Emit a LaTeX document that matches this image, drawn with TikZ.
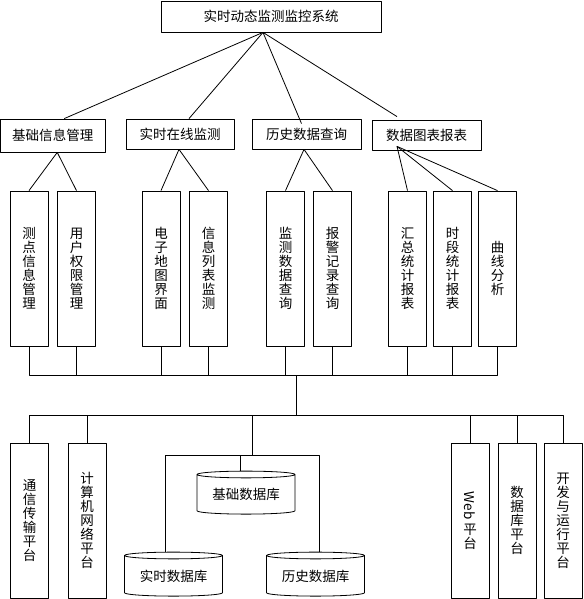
\documentclass[tikz,border=0pt]{standalone}
\usepackage{fontspec}
\setmainfont{Noto Sans CJK SC}
\usepackage{graphicx}
\usetikzlibrary{shapes.geometric}

\begin{document}
\begin{tikzpicture}[x=1pt,y=-1pt,line width=0.8pt,line join=round,
	box/.style={draw,inner sep=0pt,font=\fontsize{13.5}{14}\selectfont},
	vbox/.style={draw,inner sep=0pt,minimum width=38pt,minimum height=155pt,align=center,font=\fontsize{13.5}{14}\selectfont},
	db/.style={draw,cylinder,shape border rotate=90,aspect=0.1,minimum width=98pt,minimum height=44pt,inner sep=0pt,font=\fontsize{13.5}{14}\selectfont}]
	\useasboundingbox (0,0) rectangle (583,599);
	\def \ys{268.5} % tam hop doc tang tren
	\def \yp{520.5} % tam hop doc tang duoi
	% tang 1, tang 2
	\node[box,minimum width=220pt,minimum height=31pt] (sys) at (271,16.5) {实时动态监测监控系统};
	\node[box,minimum width=104.5pt,minimum height=33pt] (jc) at (52.75,135.5) {基础信息管理};
	\node[box,minimum width=108pt,minimum height=30pt] (ss) at (180,134) {实时在线监测};
	\node[box,minimum width=109pt,minimum height=30pt] (ls) at (306.5,134) {历史数据查询};
	\node[box,minimum width=109pt,minimum height=30pt] (tb) at (426.5,135) {数据图表报表};
	% tang 3
	\node[vbox] (cd) at (29,\ys) {测\\点\\信\\息\\管\\理};
	\node[vbox] (yh) at (76.5,\ys) {用\\户\\权\\限\\管\\理};
	\node[vbox] (dz) at (161,\ys) {电\\子\\地\\图\\界\\面};
	\node[vbox] (xx) at (208.5,\ys) {信\\息\\列\\表\\监\\测};
	\node[vbox] (jcs) at (285.5,\ys) {监\\测\\数\\据\\查\\询};
	\node[vbox] (bj) at (332.5,\ys) {报\\警\\记\\录\\查\\询};
	\node[vbox] (hz) at (407.5,\ys) {汇\\总\\统\\计\\报\\表};
	\node[vbox] (sd) at (452.5,\ys) {时\\段\\统\\计\\报\\表};
	\node[vbox] (qx) at (497.5,\ys) {曲\\线\\分\\析};
	% tang duoi
	\node[vbox] (tx) at (29.5,\yp) {通\\信\\传\\输\\平\\台};
	\node[vbox] (jsj) at (87,\yp) {计\\算\\机\\网\\络\\平\\台};
	\node[vbox] (web) at (470,\yp) {\rotatebox{-90}{Web}\\[3pt]平\\台};
	\node[vbox] (sjk) at (517,\yp) {数\\据\\库\\平\\台};
	\node[vbox] (kf) at (563,\yp) {开\\发\\与\\运\\行\\平\\台};
	\node[db,minimum height=43pt] (jcdb) at (246,494.5) {基础数据库};
	\node[db] (ssdb) at (173.5,576) {实时数据库};
	\node[db] (lsdb) at (315.5,576) {历史数据库};
	\coordinate (apex) at ([xshift=-8pt]sys.south);
	\coordinate (busA) at (296,375);
	\coordinate (busB) at (296,415);
	\coordinate (hub) at (252,455);
	% duong noi
	\draw (apex)--([xshift=11.5pt]jc.north);
	\draw (apex)--([xshift=9pt]ss.north);
	\draw (apex)--([xshift=-5pt,yshift=-5pt]ls.north);
	\draw (apex)--([xshift=-29.5pt,yshift=3pt]tb.north);
	\draw (cd.north)--([xshift=4.5pt]jc.south)--(yh.north);
	\draw (dz.north)--([xshift=-1pt]ss.south)--(xx.north);
	\draw (jcs.north)--([xshift=-2.5pt]ls.south)--(bj.north);
	\draw (hz.north)--([xshift=-29.5pt,yshift=4pt]tb.south)--(sd.north);
	\draw ([xshift=-29.5pt,yshift=4pt]tb.south)--(qx.north);
	\draw (cd.south)|-(busA) (yh.south)|-(busA) (dz.south)|-(busA) (xx.south)|-(busA)
		(jcs.south)|-(busA) (bj.south)|-(busA) (hz.south)|-(busA) (sd.south)|-(busA) (qx.south)|-(busA);
	\draw (busA)--(busB);
	\draw (busB)-|(tx.north) (busB)-|(jsj.north) (busB)-|(web.north) (busB)-|(sjk.north) (busB)-|(kf.north);
	\draw (busB)-|(hub);
	\draw (hub)-|([xshift=-6pt]jcdb.north) (hub)-|([xshift=-8.5pt]ssdb.north) (hub)-|([xshift=3.5pt]lsdb.north);
\end{tikzpicture}
\end{document}
